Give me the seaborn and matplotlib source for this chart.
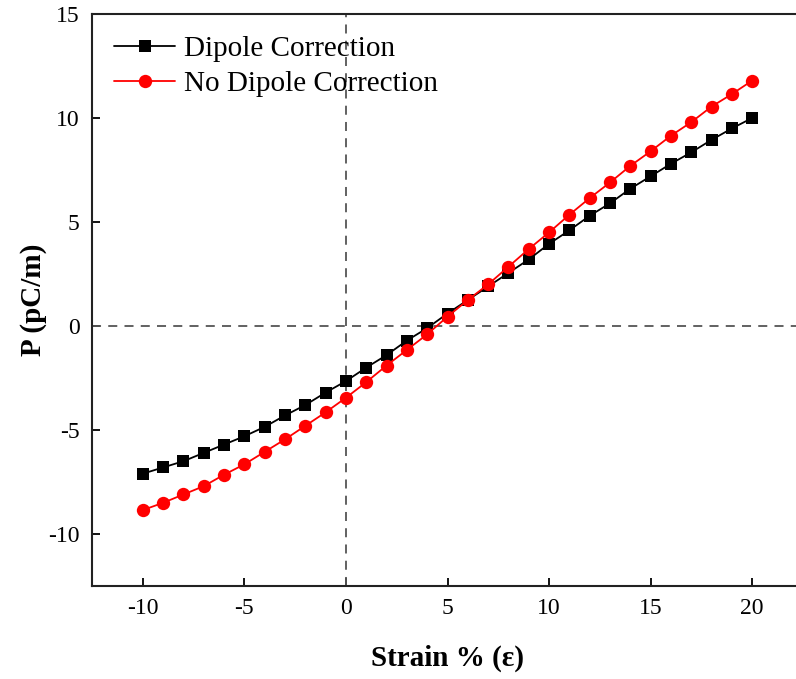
import matplotlib
matplotlib.use("Agg")
import matplotlib.pyplot as plt
import seaborn as sns
import pandas as pd
import numpy as np

strain = list(range(-10, 21))
dipole = [-7.1, -6.8, -6.5, -6.1, -5.7, -5.3, -4.85, -4.3, -3.8, -3.2, -2.65,
          -2.0, -1.4, -0.7, -0.1, 0.6, 1.25, 1.9, 2.55, 3.2, 3.95, 4.6, 5.3,
          5.9, 6.6, 7.2, 7.8, 8.35, 8.95, 9.5, 10.0]
no_dipole = [-8.85, -8.5, -8.1, -7.7, -7.15, -6.65, -6.05, -5.45, -4.8, -4.15, -3.45,
             -2.7, -1.9, -1.15, -0.4, 0.45, 1.25, 2.0, 2.85, 3.7, 4.5, 5.35, 6.15,
             6.9, 7.7, 8.4, 9.15, 9.8, 10.55, 11.15, 11.8]
series_names = ["Dipole Correction", "No Dipole Correction"]
xticks = [-10, -5, 0, 5, 10, 15, 20]
yticks = [-10, -5, 0, 5, 10, 15]

df = pd.DataFrame({
    "strain": strain * 2,
    "P": dipole + no_dipole,
    "series": [series_names[0]] * len(strain) + [series_names[1]] * len(strain),
})

sns.set_style("ticks")
plt.rcParams["font.family"] = ["Liberation Serif", "DejaVu Serif"]
plt.rcParams["axes.unicode_minus"] = False
plt.rcParams["text.color"] = "black"
plt.rcParams["axes.labelcolor"] = "black"

fig = plt.figure(figsize=(7.96, 6.79), dpi=100)
ax = fig.add_axes([92 / 796, 1 - 586 / 679, (803 - 92) / 796, (586 - 14) / 679])

ax.axvline(0, color="#555555", lw=1.3, ls=(0, (5, 4)), zorder=1)
ax.axhline(0, color="#555555", lw=1.3, ls=(0, (5, 4)), zorder=1)

sns.lineplot(data=df, x="strain", y="P", hue="series", style="series",
             palette={series_names[0]: "black", series_names[1]: "red"},
             markers={series_names[0]: "s", series_names[1]: "o"},
             dashes=False, markersize=9, markeredgewidth=0, linewidth=1.3,
             ax=ax, zorder=3)

marker_sizes = {"s": 8.3, "o": 9.6}
for ln in ax.lines:
    m = ln.get_marker()
    if m in marker_sizes:
        ln.set_markersize(marker_sizes[m])

ax.set_xlim(-12.5, 22.5)
ax.set_ylim(-12.5, 15)
ax.set_xticks(xticks)
ax.set_yticks(yticks)
ax.tick_params(direction="in", length=6, width=1.3, labelsize=17, pad=9,
               color="black", labelcolor="black")
for s in ax.spines.values():
    s.set_linewidth(1.5)
    s.set_color("#222222")

ax.set_xlabel("Strain % (ε)", fontsize=21, fontweight="bold", labelpad=18)
ax.set_ylabel("P (pC/m)", fontsize=21, fontweight="bold", labelpad=1)

leg = ax.legend(loc="upper left", frameon=False, fontsize=21, handlelength=2.1,
                handletextpad=0.3, borderaxespad=0.35, labelspacing=0.3,
                bbox_to_anchor=(0.0, 1.0))
for h in leg.legend_handles:
    m = h.get_marker()
    if m in marker_sizes:
        h.set_markersize(marker_sizes[m])

fig.savefig("out.png", dpi=100)
